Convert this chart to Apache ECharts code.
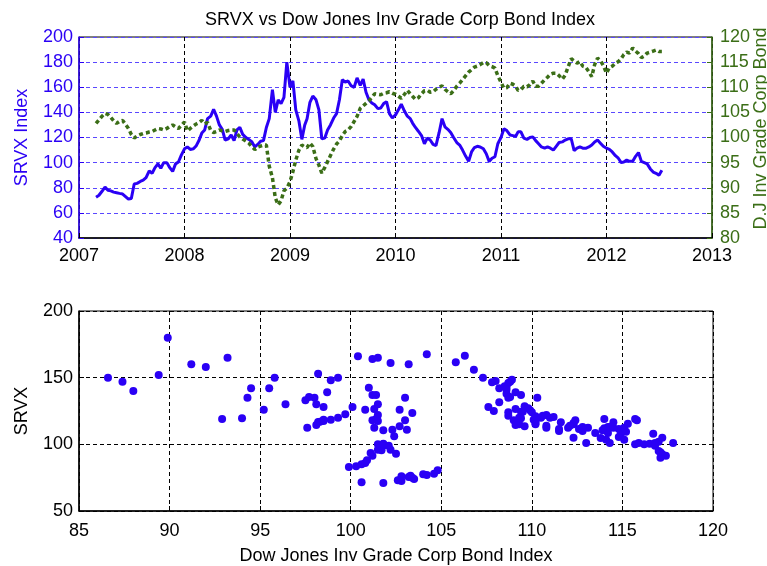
<!DOCTYPE html>
<html>
<head>
<meta charset="utf-8">
<title>SRVX vs Dow Jones Inv Grade Corp Bond Index</title>
<script src="https://cdn.jsdelivr.net/npm/echarts@6/dist/echarts.min.js"></script>
<style>
  html, body { margin: 0; padding: 0; background: #fff; }
  #chart { width: 767px; height: 566px; }
</style>
</head>
<body>
<div id="chart"></div>
<script>
// sample dates (1st, 11th, 21st of each month)
const dates = [
  '2007-03-01','2007-03-11','2007-03-21','2007-04-01','2007-04-11','2007-04-21','2007-05-01','2007-05-11','2007-05-21',
  '2007-06-01','2007-06-11','2007-06-21','2007-07-01','2007-07-11','2007-07-21','2007-08-01','2007-08-11','2007-08-21',
  '2007-09-01','2007-09-11','2007-09-21','2007-10-01','2007-10-11','2007-10-21','2007-11-01','2007-11-11','2007-11-21',
  '2007-12-01','2007-12-11','2007-12-21',
  '2008-01-01','2008-01-11','2008-01-21','2008-02-01','2008-02-11','2008-02-21','2008-03-01','2008-03-11','2008-03-21',
  '2008-04-01','2008-04-11','2008-04-21','2008-05-01','2008-05-11','2008-05-21','2008-06-01','2008-06-11','2008-06-21',
  '2008-07-01','2008-07-11','2008-07-21','2008-08-01','2008-08-11','2008-08-21','2008-09-01','2008-09-11','2008-09-21',
  '2008-10-01','2008-10-11','2008-10-21','2008-11-01','2008-11-11','2008-11-21','2008-12-01','2008-12-11','2008-12-21',
  '2009-01-01','2009-01-11','2009-01-21','2009-02-01','2009-02-11','2009-02-21','2009-03-01','2009-03-11','2009-03-21',
  '2009-04-01','2009-04-11','2009-04-21','2009-05-01','2009-05-11','2009-05-21','2009-06-01','2009-06-11','2009-06-21',
  '2009-07-01','2009-07-11','2009-07-21','2009-08-01','2009-08-11','2009-08-21','2009-09-01','2009-09-11','2009-09-21',
  '2009-10-01','2009-10-11','2009-10-21','2009-11-01','2009-11-11','2009-11-21','2009-12-01','2009-12-11','2009-12-21',
  '2010-01-01','2010-01-11','2010-01-21','2010-02-01','2010-02-11','2010-02-21','2010-03-01','2010-03-11','2010-03-21',
  '2010-04-01','2010-04-11','2010-04-21','2010-05-01','2010-05-11','2010-05-21','2010-06-01','2010-06-11','2010-06-21',
  '2010-07-01','2010-07-11','2010-07-21','2010-08-01','2010-08-11','2010-08-21','2010-09-01','2010-09-11','2010-09-21',
  '2010-10-01','2010-10-11','2010-10-21','2010-11-01','2010-11-11','2010-11-21','2010-12-01','2010-12-11','2010-12-21',
  '2011-01-01','2011-01-11','2011-01-21','2011-02-01','2011-02-11','2011-02-21','2011-03-01','2011-03-11','2011-03-21',
  '2011-04-01','2011-04-11','2011-04-21','2011-05-01','2011-05-11','2011-05-21','2011-06-01','2011-06-11','2011-06-21',
  '2011-07-01','2011-07-11','2011-07-21','2011-08-01','2011-08-11','2011-08-21','2011-09-01','2011-09-11','2011-09-21',
  '2011-10-01','2011-10-11','2011-10-21','2011-11-01','2011-11-11','2011-11-21','2011-12-01','2011-12-11','2011-12-21',
  '2012-01-01','2012-01-11','2012-01-21','2012-02-01','2012-02-11','2012-02-21','2012-03-01','2012-03-11','2012-03-21',
  '2012-04-01','2012-04-11','2012-04-21','2012-05-01','2012-05-11','2012-05-21','2012-06-01','2012-06-11','2012-06-21',
  '2012-07-01','2012-07-11'
];

// SRVX index (left axis)
const srvx = [
  72.5,74,77,80.5,78,77.5,76.5,76,75.5,75,73,71,71.5,83,83.5,85,86,88,93.5,91.5,96,99,95.5,100,100,96,93,99,100.5,106,
  111,112.5,110.5,111,113.5,118,123.5,126,135,137,142.5,137,130,126.5,118,119,122,117.5,
  126,128,122.5,120,118.5,116.7,112.5,114.5,117,117.5,128,135,158,140,150,147,152,180,
  160,165,142,133,118.5,130,135,148,153,150,142,119,119.5,126,130,135.5,139,150,
  166,164,165,161,160,167.5,161.5,166.5,156,150,147.5,146,143,143.5,147,148.5,139,135.5,
  138,142,146.5,141,137,135,131.5,128,125,121.5,115,119.5,118,114.5,113.5,124,135,128.5,
  126.5,124,120,116,114,110,105,101,108.5,112,113,112.5,111,107,101,103.5,104.7,115,
  120,127,125.5,122,121.5,121,124.5,124.5,119.5,118.5,120,120.5,117.5,115,112.5,111.5,112.5,111.5,
  110,113,116,116.5,118,119,119,109.5,111.5,112.5,111.5,111.4,112.5,114,116.5,118,115.5,113,
  111.5,110.5,108.5,105.5,103.5,100,100.5,102,101,101,105,108,101,100,99,95,92.5,91.5,90,94
];

// Dow Jones Inv Grade Corp Bond Index (right axis)
const djBond = [
  102.8,103.5,104.2,104.8,104.6,104,103.3,102.8,103.2,103.4,102.6,101.8,100.6,99.9,100.3,100.6,100.8,100.9,
  101.1,101.2,101.5,101.8,101.7,101.5,101.8,102.2,102.5,102.1,101.8,102.4,
  103.1,101.3,101.8,102.3,102.7,103,103.4,102.7,103,101.4,101.0,101.2,101.5,101.3,101.2,101.4,101.5,101.5,
  100.8,100.1,99.7,99.3,98.9,98.2,97.6,98.1,98.3,98.5,98.5,94.3,92,88,86.6,87.4,89.4,89.9,
  91.2,93.2,95.5,97.5,98.5,98.1,98.0,98.9,98.2,95.8,94.5,92.9,94,95.2,96.4,97.7,98.7,99.3,
  100.4,101.2,101.5,102.2,103.2,104.2,105.8,106.3,106.8,107.3,108,108.7,108.6,108.5,108.8,108.9,109.1,108.8,
  108.6,108.2,107.8,108.6,109.4,108.7,108.2,107.6,107.9,108.7,109.3,109.4,109,109.1,109.6,110,110.3,109.6,
  109.1,108.7,109.3,110.2,110.8,111.5,112.3,113,113.5,114,114.2,114.5,114.9,114.9,114.3,114.1,113.8,112.3,
  111,109.8,109.9,110.8,110.6,110.2,109.4,109.5,110.2,110.1,110.5,111.2,110.2,110.2,110.8,111.5,112,112.6,
  112.8,112.8,112.3,111.6,112.4,114,115.7,115.2,114.8,115.1,114.2,114,113.1,112.1,114.5,115.8,115.3,114.3,
  112.8,113.9,114.2,114.8,115.1,115.7,116.5,117,116.8,117.8,117.2,116.7,115.9,116.2,116.8,117,117.2,117.4,117.1,117.1
];

const BLUE = '#2a00f5';
const GREEN = '#3b6e17';
const FONT = 'Liberation Sans';

// date string -> fractional year, so the value axis can put ticks on Jan 1
function toYear(s) {
  const d = Date.parse(s + 'T00:00:00Z');
  const y = Number(s.slice(0, 4));
  const a = Date.UTC(y, 0, 1), b = Date.UTC(y + 1, 0, 1);
  return y + (d - a) / (b - a);
}

const srvxLine = dates.map((d, i) => [toYear(d), srvx[i]]);
const djLine = dates.map((d, i) => [toYear(d), djBond[i]]);
const scatter = dates.map((d, i) => [djBond[i], srvx[i]]);

const chart = echarts.init(document.getElementById('chart'));

const label = (color) => ({ color: color, fontSize: 18, fontFamily: FONT });

chart.setOption({
  animation: false,
  textStyle: { fontFamily: FONT },
  title: {
    text: 'SRVX vs Dow Jones Inv Grade Corp Bond Index',
    left: 395, top: 6, textAlign: 'center',
    textStyle: { fontSize: 18, fontWeight: 'normal', color: '#000', fontFamily: FONT }
  },
  grid: [
    { left: 79, right: 55, top: 37, height: 201, outerBoundsMode: 'none', containLabel: false,
      show: true, borderColor: '#000', borderWidth: 1 },
    { left: 79, right: 54, top: 311, height: 200, outerBoundsMode: 'none', containLabel: false,
      show: true, borderColor: '#000', borderWidth: 1 }
  ],
  xAxis: [
    {
      gridIndex: 0, type: 'value', min: 2007, max: 2013, interval: 1,
      axisLine: { lineStyle: { color: '#000', width: 1.5 } },
      axisTick: { inside: true, length: 5, lineStyle: { color: '#000' } },
      axisLabel: Object.assign(label('#000'), { margin: 9, formatter: (v) => String(v) }),
      splitLine: { show: true, lineStyle: { color: '#000', type: [4, 3], width: 1 } }
    },
    {
      gridIndex: 1, type: 'value', min: 85, max: 120, interval: 5,
      name: 'Dow Jones Inv Grade Corp Bond Index', nameLocation: 'middle', nameGap: 36,
      nameTextStyle: { fontSize: 18, color: '#000', fontFamily: FONT },
      axisLine: { lineStyle: { color: '#000', width: 1.5 } },
      axisTick: { inside: true, length: 5, lineStyle: { color: '#000' } },
      axisLabel: Object.assign(label('#000'), { margin: 11 }),
      splitLine: { show: true, lineStyle: { color: '#000', type: [4, 3], width: 1 } }
    }
  ],
  yAxis: [
    {
      gridIndex: 0, type: 'value', min: 40, max: 200, interval: 20,
      name: 'SRVX Index', nameLocation: 'middle', nameGap: 48, nameRotate: 90,
      nameTextStyle: { fontSize: 18, color: BLUE, fontFamily: FONT },
      axisLine: { lineStyle: { color: BLUE, width: 1.5 } },
      axisTick: { inside: true, length: 5, lineStyle: { color: BLUE } },
      axisLabel: Object.assign(label(BLUE), { margin: 6 }),
      splitLine: { show: true, lineStyle: { color: '#5a48ff', type: [4, 3], width: 1 } }
    },
    {
      gridIndex: 0, type: 'value', position: 'right', min: 80, max: 120, interval: 5,
      name: 'D.J Inv Grade Corp Bond', nameLocation: 'middle', nameGap: 40, nameRotate: 90,
      nameMoveOverlap: false,
      nameTextStyle: { fontSize: 18, color: GREEN, fontFamily: FONT, padding: [0, 0, 0, 18] },
      axisLine: { lineStyle: { color: GREEN, width: 1.5 } },
      axisTick: { inside: true, length: 5, lineStyle: { color: GREEN } },
      axisLabel: Object.assign(label(GREEN), { margin: 8 }),
      splitLine: { show: false }
    },
    {
      gridIndex: 1, type: 'value', min: 50, max: 200, interval: 50,
      name: 'SRVX', nameLocation: 'middle', nameGap: 48, nameRotate: 90,
      nameTextStyle: { fontSize: 18, color: '#000', fontFamily: FONT },
      axisLine: { lineStyle: { color: '#000', width: 1.5 } },
      axisTick: { inside: true, length: 5, lineStyle: { color: '#000' } },
      axisLabel: Object.assign(label('#000'), { margin: 6 }),
      splitLine: { show: true, lineStyle: { color: '#000', type: [4, 3], width: 1 } }
    }
  ],
  series: [
    {
      name: 'SRVX', type: 'line', xAxisIndex: 0, yAxisIndex: 0,
      data: srvxLine, showSymbol: false,
      lineStyle: { color: BLUE, width: 3 }
    },
    {
      name: 'DJ Bond', type: 'line', xAxisIndex: 0, yAxisIndex: 1,
      data: djLine, showSymbol: false,
      lineStyle: { color: GREEN, width: 3.5, type: [4, 3] }
    },
    {
      name: 'SRVX vs DJ', type: 'scatter', xAxisIndex: 1, yAxisIndex: 2,
      data: scatter, symbolSize: 8,
      itemStyle: { color: BLUE, opacity: 1 }
    }
  ]
});
</script>
</body>
</html>
